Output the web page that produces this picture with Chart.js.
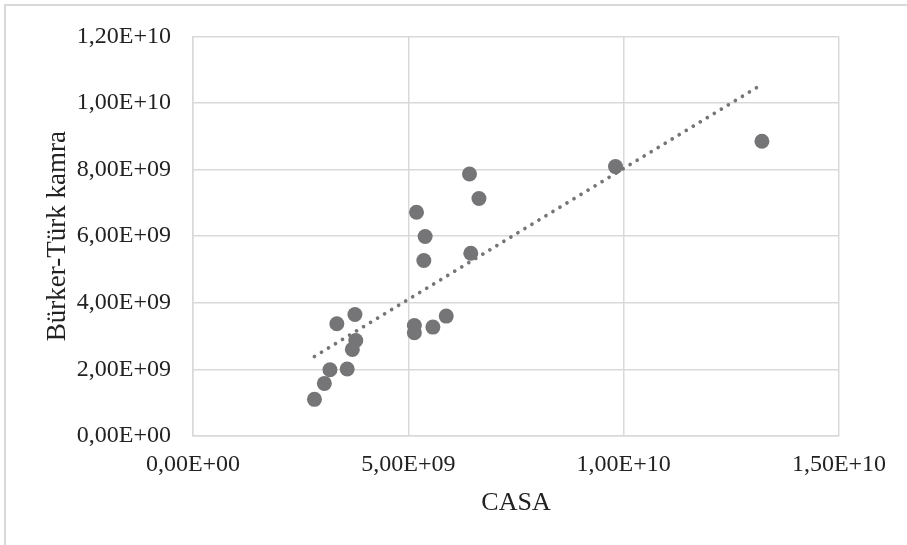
<!DOCTYPE html>
<html>
<head>
<meta charset="utf-8">
<script src="https://cdn.jsdelivr.net/npm/chart.js@4"></script>
<style>
  body { margin: 0; background: #fff; }
</style>
</head>
<body>
<canvas id="chart" width="907" height="545"></canvas>
<script>
// CASA vs Bürker-Türk counts
const casa = [2.82e9, 3.05e9, 3.18e9, 3.58e9, 3.70e9, 3.78e9, 3.34e9, 3.76e9,
              5.14e9, 5.14e9, 5.57e9, 5.88e9, 6.42e9, 6.64e9, 5.19e9, 5.39e9,
              5.36e9, 6.45e9, 9.81e9, 13.21e9];
const burker = [1.10e9, 1.58e9, 1.99e9, 2.01e9, 2.60e9, 2.87e9, 3.37e9, 3.65e9,
                3.32e9, 3.10e9, 3.27e9, 3.60e9, 7.87e9, 7.13e9, 6.72e9, 5.99e9,
                5.27e9, 5.49e9, 8.09e9, 8.85e9];
const xTickLabels = ['0,00E+00', '5,00E+09', '1,00E+10', '1,50E+10'];
const yTickLabels = ['0,00E+00', '2,00E+09', '4,00E+09', '6,00E+09', '8,00E+09', '1,00E+10', '1,20E+10'];

const points = casa.map((x, i) => ({ x: x, y: burker[i] }));

// least squares trend, drawn from the smallest to the largest x
const n = casa.length;
const mx = casa.reduce((a, b) => a + b, 0) / n;
const my = burker.reduce((a, b) => a + b, 0) / n;
let sxy = 0, sxx = 0;
for (let i = 0; i < n; i++) {
  sxy += (casa[i] - mx) * (burker[i] - my);
  sxx += (casa[i] - mx) * (casa[i] - mx);
}
const slope = sxy / sxx;
const icept = my - slope * mx;
const x0 = Math.min(...casa), x1 = Math.max(...casa);
const trend = [{ x: x0, y: icept + slope * x0 }, { x: x1, y: icept + slope * x1 }];

const gray = '#757577';
const gridColor = '#d9d9d9';
const serif = 'Liberation Serif, Times New Roman, serif';

const frame = {
  id: 'frame',
  beforeDraw(chart) {
    const c = chart.ctx;
    c.save();
    c.strokeStyle = gridColor;
    c.lineWidth = 2;
    c.beginPath();
    c.moveTo(5, 545);
    c.lineTo(5, 5);
    c.lineTo(907, 5);
    c.stroke();
    c.restore();
  }
};

new Chart(document.getElementById('chart'), {
  type: 'scatter',
  data: {
    datasets: [{
      type: 'line',
      data: trend,
      borderColor: gray,
      borderWidth: 3.7,
      borderDash: [0.01, 8.2],
      borderCapStyle: 'round',
      pointRadius: 0,
      fill: false,
      order: 0
    }, {
      data: points,
      backgroundColor: gray,
      borderColor: gray,
      pointRadius: 7.5,
      borderWidth: 0,
      order: 1
    }]
  },
  options: {
    responsive: false,
    animation: false,
    layout: { padding: { top: 32, right: 68, left: 0, bottom: 0 } },
    plugins: { legend: { display: false }, tooltip: { enabled: false } },
    scales: {
      x: {
        type: 'linear',
        min: 0, max: 1.5e10,
        afterFit(s) { s.height = 109; },
        grid: { color: gridColor, lineWidth: 1.5, drawTicks: false },
        border: { color: gridColor, width: 1.5 },
        ticks: {
          stepSize: 5e9, padding: 14, color: '#222',
          font: { family: serif, size: 24 },
          callback: (v, i) => xTickLabels[i]
        },
        title: {
          display: true, text: 'CASA', color: '#222',
          font: { family: serif, size: 26, lineHeight: 1.2 },
          padding: { top: 0, bottom: 26 }
        }
      },
      y: {
        min: 0, max: 1.2e10,
        afterFit(s) { s.width = 193; },
        grid: { color: gridColor, lineWidth: 1.5, drawTicks: false },
        border: { color: gridColor, width: 1.5 },
        ticks: {
          stepSize: 2e9, padding: 22, color: '#222',
          font: { family: serif, size: 24 },
          callback: (v, i) => yTickLabels[i]
        },
        title: {
          display: true, text: 'Bürker-Türk kamra', color: '#222',
          font: { family: serif, size: 27, lineHeight: 1.2 },
          padding: { top: 42, bottom: 0 }
        }
      }
    }
  },
  plugins: [frame]
});
</script>
</body>
</html>
